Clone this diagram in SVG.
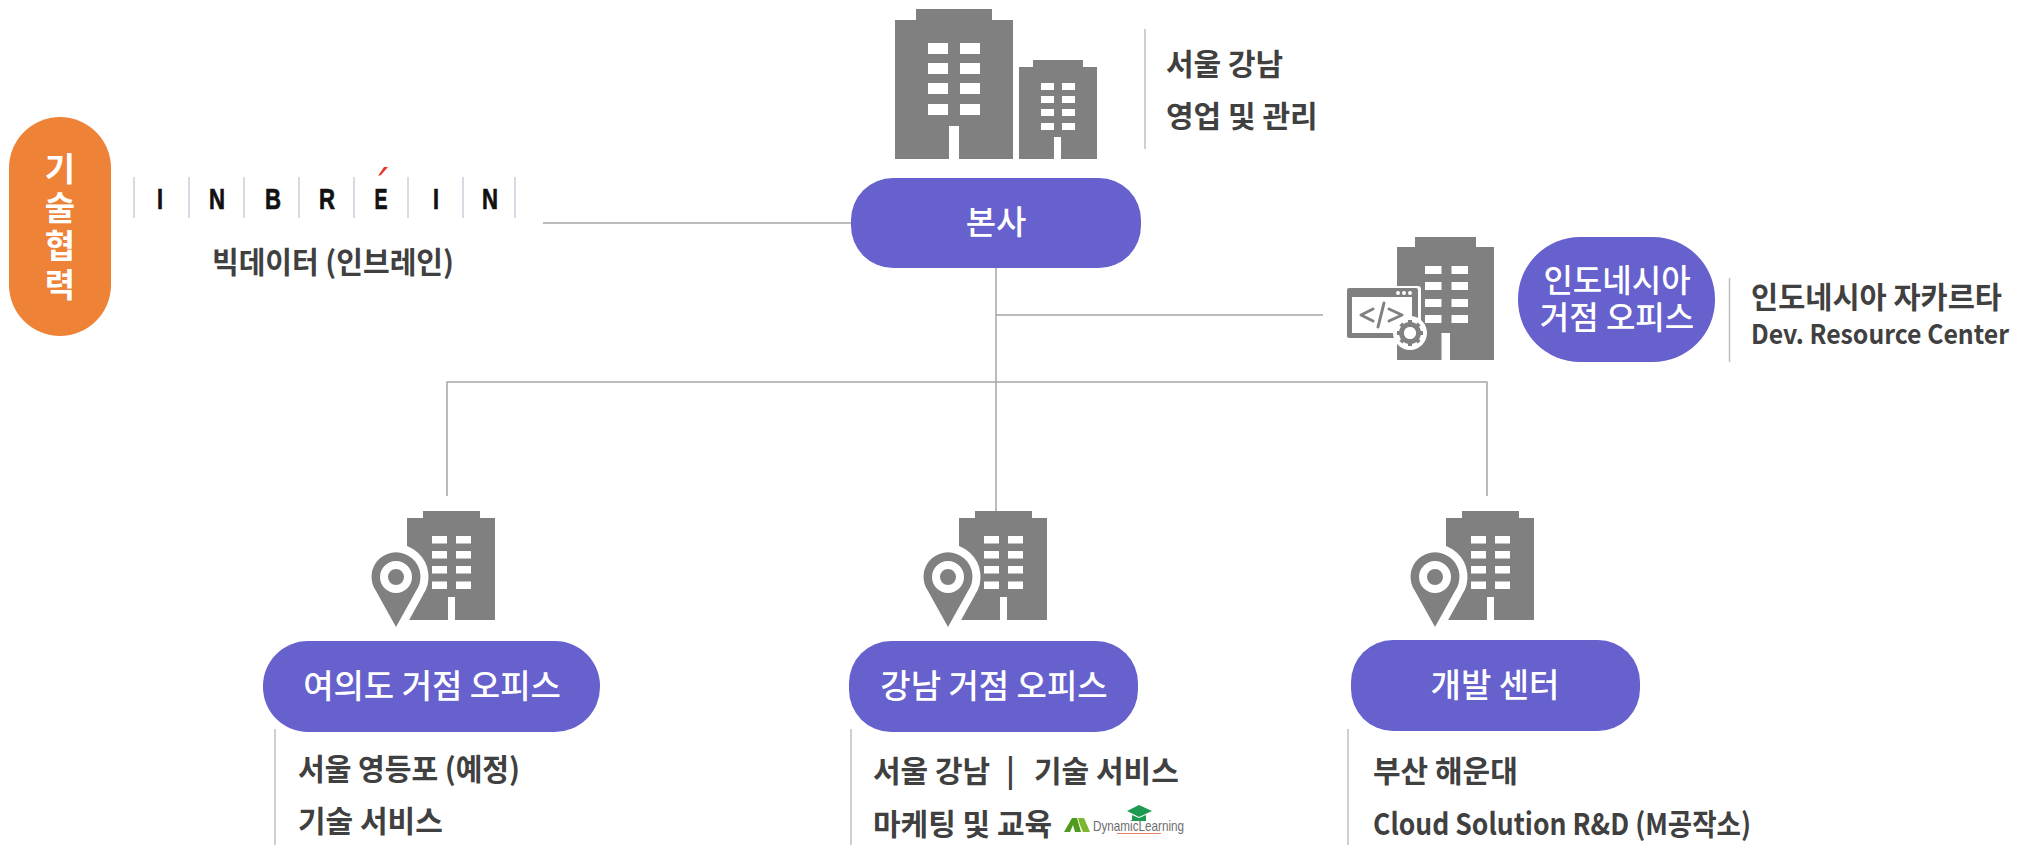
<svg xmlns="http://www.w3.org/2000/svg" width="2031" height="845" viewBox="0 0 2031 845">
<style>
text{font-family:"Noto Sans CJK KR","Noto Sans",sans-serif}
.pill{fill:#6661cd}
.w{fill:#fff;font-size:33px;font-weight:500;text-anchor:middle}
.d{fill:#404040;font-size:30px;font-weight:700}
.g{fill:#808080}
.wn{fill:#fff}
.div{stroke:#bfbfbf;stroke-width:1.5;fill:none}
.con{stroke:#a6a6a6;stroke-width:1.5;fill:none}
.lg{stroke:#ccd0da;stroke-width:1.5}
.lt{font-family:"Liberation Sans",Arial,sans-serif;font-size:29px;font-weight:700;fill:#111;stroke:#111;stroke-width:.7;text-anchor:middle}
</style>
<defs>
<g id="office">
<path class="g" d="M407 518H423V511H480V518H495V620H455V597H448V620H407Z"/>
<g class="wn">
<rect x="432" y="536" width="15" height="7.500"/><rect x="456" y="536" width="15" height="7.500"/>
<rect x="432" y="551" width="15" height="7.500"/><rect x="456" y="551" width="15" height="7.500"/>
<rect x="432" y="566" width="15" height="7.500"/><rect x="456" y="566" width="15" height="7.500"/>
<rect x="432" y="581.500" width="15" height="7.500"/><rect x="456" y="581.500" width="15" height="7.500"/>
</g>
<path d="M396 627L376 591A24.500 24.500 0 1 1 416 591Z" fill="#fff" stroke="#fff" stroke-width="16" stroke-linejoin="round"/>
<path class="g" d="M396 627L376 591A24.500 24.500 0 1 1 416 591Z"/>
<circle cx="396" cy="577" r="12" fill="#808080" stroke="#fff" stroke-width="8"/>
</g>
</defs>

<g id="connectors">
<path class="con" d="M543 223H851"/>
<path class="con" d="M996 268V512"/>
<path class="con" d="M996 315H1323"/>
<path class="con" d="M447 496V382H1487V496"/>
</g>

<g id="hq">
<path class="g" d="M895 20H916V9H992V20H1013V159H959V126H949V159H895Z"/>
<g class="wn">
<rect x="928" y="43" width="20" height="11"/><rect x="960" y="43" width="20" height="11"/>
<rect x="928" y="63" width="20" height="11"/><rect x="960" y="63" width="20" height="11"/>
<rect x="928" y="83" width="20" height="11"/><rect x="960" y="83" width="20" height="11"/>
<rect x="928" y="104" width="20" height="11"/><rect x="960" y="104" width="20" height="11"/>
</g>
<path class="g" d="M1019 67H1033V60H1083V67H1097V159H1061V137H1054V159H1019Z"/>
<g class="wn">
<rect x="1041" y="83" width="13" height="7"/><rect x="1062" y="83" width="13" height="7"/>
<rect x="1041" y="96" width="13" height="7"/><rect x="1062" y="96" width="13" height="7"/>
<rect x="1041" y="109" width="13" height="7"/><rect x="1062" y="109" width="13" height="7"/>
<rect x="1041" y="123" width="13" height="7"/><rect x="1062" y="123" width="13" height="7"/>
</g>
<path class="div" d="M1145 29V149"/>
<text class="d" x="1166" y="75">서울 강남</text>
<text class="d" x="1166" y="127">영업 및 관리</text>
<rect class="pill" x="851" y="178" width="290" height="90" rx="42"/>
<text class="w" x="996" y="234">본사</text>
</g>

<g id="tech">
<rect x="9" y="117" width="102" height="219" rx="51" fill="#ee8237"/>
<text class="w" x="60" y="181" style="font-weight:700"><tspan x="60" y="181">기</tspan><tspan x="60" y="220">술</tspan><tspan x="60" y="258">협</tspan><tspan x="60" y="297">력</tspan></text>
</g>

<g id="inbrein">
<path class="lg" d="M134 177V218M189 177V218M244 177V218M299 177V218M354 177V218M408 177V218M463 177V218M515 177V218"/>
<text class="lt" x="160" y="209" textLength="6" lengthAdjust="spacingAndGlyphs">I</text>
<text class="lt" x="217" y="209" textLength="16" lengthAdjust="spacingAndGlyphs">N</text>
<text class="lt" x="273" y="209" textLength="16" lengthAdjust="spacingAndGlyphs">B</text>
<text class="lt" x="327" y="209" textLength="16" lengthAdjust="spacingAndGlyphs">R</text>
<text class="lt" x="381" y="209" textLength="13" lengthAdjust="spacingAndGlyphs">E</text>
<text class="lt" x="436" y="209" textLength="6" lengthAdjust="spacingAndGlyphs">I</text>
<text class="lt" x="490" y="209" textLength="16" lengthAdjust="spacingAndGlyphs">N</text>
<path d="M378 176L384 167H388L381 175Z" fill="#e8392b"/>
<text class="d" x="212" y="273" textLength="242" lengthAdjust="spacingAndGlyphs">빅데이터 (인브레인)</text>
</g>

<g id="indonesia">
<path class="g" d="M1397 247H1415V237H1476V247H1494V360H1450V333H1441.500V360H1397Z"/>
<g class="wn">
<rect x="1425" y="266" width="16.500" height="8"/><rect x="1451.500" y="266" width="16.500" height="8"/>
<rect x="1425" y="282" width="16.500" height="8"/><rect x="1451.500" y="282" width="16.500" height="8"/>
<rect x="1425" y="299" width="16.500" height="8"/><rect x="1451.500" y="299" width="16.500" height="8"/>
<rect x="1425" y="315" width="16.500" height="8"/><rect x="1451.500" y="315" width="16.500" height="8"/>
</g>
<rect x="1345" y="286" width="76" height="54" rx="3" fill="#fff"/>
<rect class="g" x="1347" y="288" width="71" height="50" rx="2"/>
<rect x="1352" y="297" width="60" height="36" fill="#fff"/>
<g class="wn"><circle cx="1398" cy="293" r="2"/><circle cx="1404" cy="293" r="2"/><circle cx="1410" cy="293" r="2"/></g>
<path d="M1373 309L1361 315L1373 321M1384 303L1378 327M1389 309L1402 315L1389 321" fill="none" stroke="#808080" stroke-width="3" stroke-linecap="round" stroke-linejoin="round"/>
<circle cx="1410" cy="333" r="17" fill="#fff"/>
<circle cx="1410" cy="333" r="8.500" fill="none" stroke="#808080" stroke-width="5"/>
<path d="M1410 320V346M1397 333H1423M1400.800 323.800L1419.200 342.200M1419.200 323.800L1400.800 342.200" stroke="#808080" stroke-width="4" stroke-dasharray="4 18 4 0"/>
<circle cx="1410" cy="333" r="6" fill="#fff"/>
<rect class="pill" x="1518" y="237" width="197" height="125" rx="62"/>
<text class="w" x="1617" y="292" style="font-size:32px"><tspan x="1617" y="292">인도네시아</tspan><tspan x="1617" y="329">거점 오피스</tspan></text>
<path class="div" d="M1729.500 278V362"/>
<text class="d" x="1751" y="308" textLength="251" lengthAdjust="spacingAndGlyphs">인도네시아 자카르타</text>
<text class="d" x="1751" y="344" textLength="258" lengthAdjust="spacingAndGlyphs" style="font-size:27px">Dev. Resource Center</text>
</g>

<g id="yeouido">
<use href="#office"/>
<rect class="pill" x="263" y="641" width="337" height="91" rx="45"/>
<text class="w" x="432" y="698">여의도 거점 오피스</text>
<path class="div" d="M275 729V845"/>
<text class="d" x="298" y="780" textLength="222" lengthAdjust="spacingAndGlyphs">서울 영등포 (예정)</text>
<text class="d" x="298" y="832">기술 서비스</text>
</g>

<g id="gangnam">
<use href="#office" x="552"/>
<rect class="pill" x="849" y="641" width="289" height="91" rx="42"/>
<text class="w" x="994" y="698">강남 거점 오피스</text>
<path class="div" d="M851 729V845"/>
<text class="d" x="873" y="782"><tspan x="873">서울 강남</tspan><tspan x="1006">|</tspan><tspan x="1034">기술 서비스</tspan></text>
<text class="d" x="873" y="835">마케팅 및 교육</text>
<g id="dl-logo">
<path d="M1064 832L1072 818H1077L1081 832H1075L1073 825L1070 832Z" fill="#4f9a1f"/>
<path d="M1078 818H1084L1090 832H1083L1080 825Z" fill="#7cb82f"/>
<path d="M1127 811L1139 805L1152 811L1139 817Z" fill="#1e9a50"/>
<path d="M1132 815V821H1146V815L1139 818Z" fill="#1e9a50"/>
<text x="1093" y="831" font-size="15" fill="#6d6d6d" textLength="91" lengthAdjust="spacingAndGlyphs" style="font-family:'Liberation Sans',sans-serif">DynamicLearning</text>
<path d="M1117 833.500H1161" stroke="#e8836a" stroke-width="1"/>
</g>
</g>

<g id="dev">
<use href="#office" x="1039"/>
<rect class="pill" x="1351" y="640" width="289" height="91" rx="42"/>
<text class="w" x="1495" y="697">개발 센터</text>
<path class="div" d="M1348 729V845"/>
<text class="d" x="1373" y="782">부산 해운대</text>
<text class="d" x="1373" y="835" textLength="378" lengthAdjust="spacingAndGlyphs">Cloud Solution R&amp;D (M공작소)</text>
</g>
</svg>
